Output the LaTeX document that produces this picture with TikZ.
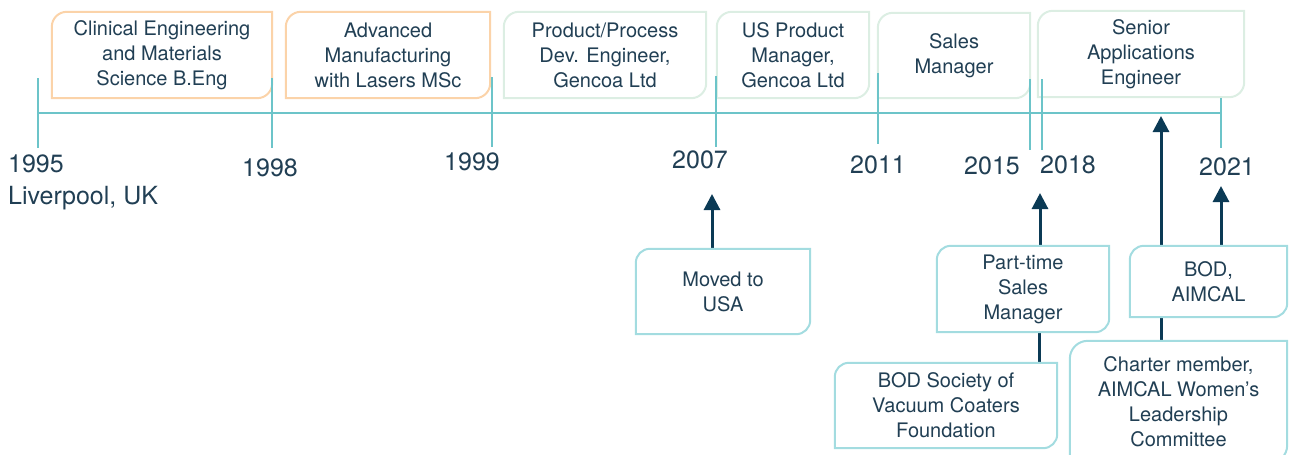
\documentclass[tikz,border=0pt]{standalone}
\usepackage{fontspec}
\setmainfont{TeX Gyre Heros}
\usetikzlibrary{arrows.meta}
\pgfdeclarelayer{back}
\pgfdeclarelayer{mid}
\pgfsetlayers{back,mid,main}
\definecolor{txt}{HTML}{213F54}
\definecolor{navy}{HTML}{0B3A55}
\definecolor{tealc}{HTML}{6CC4C9}
\definecolor{edu}{HTML}{FBD3A9}
\definecolor{job}{HTML}{DCEEE3}
\definecolor{ev}{HTML}{A3DCE0}
\tikzset{
 lbl/.style={font=\fontsize{20}{25}\selectfont, text=txt, align=center, inner sep=0pt},
 yr/.style={font=\fontsize{25}{32}\selectfont, text=txt, inner sep=0pt},
 tl/.style={draw=tealc, line width=2.5pt},
 arr/.style={draw=navy, line width=3pt, -{Triangle[width=16pt,length=16pt]}},
 lnk/.style={draw=navy, line width=3pt},
 outline/.style={line width=2pt, fill=white}
}
\newcommand\tlbr[3]{%
 \begin{pgfonlayer}{mid}
 \draw[outline, draw=#2] ([yshift=-#3]#1.north west) arc[start angle=180,end angle=90,radius=#3] -- (#1.north east) -- ([yshift=#3]#1.south east) arc[start angle=0,end angle=-90,radius=#3] -- (#1.south west) -- cycle;
 \end{pgfonlayer}}
\begin{document}
\begin{tikzpicture}[x=1pt,y=-1pt]
\useasboundingbox (0,0) rectangle (1293,455);
% top boxes
\node[lbl, minimum width=220pt, minimum height=86pt] (e1) at (162,55) {Clinical Engineering\\and Materials\\Science B.Eng};
\node[lbl, minimum width=204pt, minimum height=86pt] (e2) at (388,55) {Advanced\\Manufacturing\\with Lasers MSc};
\node[lbl, minimum width=202pt, minimum height=86pt] (j1) at (605,55) {Product/Process\\Dev. Engineer,\\Gencoa Ltd};
\node[lbl, minimum width=152pt, minimum height=86pt] (j2) at (793,55) {US Product\\Manager,\\Gencoa Ltd};
\node[lbl, minimum width=152pt, minimum height=85pt] (j3) at (954,55.5) {Sales\\Manager};
\node[lbl, minimum width=206pt, minimum height=86pt] (j4) at (1141,54) {Senior\\Applications\\Engineer};
\tlbr{e1}{edu}{15pt}
\tlbr{e2}{edu}{15pt}
\tlbr{j1}{job}{15pt}
\tlbr{j2}{job}{15pt}
\tlbr{j3}{job}{15pt}
\tlbr{j4}{job}{15pt}
% timeline
\draw[tl] (38,113) -- (1221,113);
\draw[tl] (38,78) -- (38,148);
\draw[tl] (272,78) -- (272,148);
\draw[tl] (492,77) -- (492,147);
\draw[tl] (716,76) -- (716,147);
\draw[tl] (878,73) -- (878,144);
\draw[tl] (1030,79) -- (1030,150);
\draw[tl] (1042,79) -- (1042,150);
\draw[tl] (1221,98) -- (1221,148);
% years
\node[yr, anchor=north west, align=left] (y95) at (8,155) {1995\\Liverpool, UK};
\node[yr] (y98) at (270,168) {1998};
\node[yr] (y99) at (472,162) {1999};
\node[yr] (y07) at (700,160) {2007};
\node[yr] (y11) at (878,165) {2011};
\node[yr] (y15) at (992,166) {2015};
\node[yr] (y18) at (1068,165) {2018};
\node[yr] (y21) at (1227,167) {2021};
% bottom boxes
\node[lbl, minimum width=174pt, minimum height=85pt] (moved) at (723,291.5) {Moved to\\USA};
\node[lbl, minimum width=172pt, minimum height=86pt] (part) at (1023,289) {Part-time\\Sales\\Manager};
\node[lbl, minimum width=222pt, minimum height=85pt] (svc) at (946,405.5) {BOD Society of\\Vacuum Coaters\\Foundation};
\node[lbl, minimum width=157pt, minimum height=71pt] (aim) at (1208.5,281.5) {BOD,\\AIMCAL};
\node[lbl, minimum width=217pt, minimum height=122pt] (charter) at (1178.5,402) {Charter member,\\AIMCAL Women’s\\Leadership\\Committee};
\tlbr{moved}{ev}{14pt}
\tlbr{part}{ev}{14pt}
\tlbr{svc}{ev}{14pt}
\tlbr{aim}{ev}{14pt}
\tlbr{charter}{ev}{18pt}
% connectors
\coordinate (t07) at (712,194);
\coordinate (t15) at (1040,193);
\coordinate (x39) at (1039,0);
\coordinate (t21) at (1221,186);
\coordinate (t18) at (1161,116);
\begin{pgfonlayer}{back}
\draw[arr] (moved.north -| t07) -- (t07);
\draw[arr] (part.north -| t15) -- (t15);
\draw[lnk] (svc.north -| x39) -- (part.south -| x39);
\draw[arr] (aim.north -| t21) -- (t21);
\draw[arr] (charter.north -| t18) -- (t18);
\end{pgfonlayer}
\end{tikzpicture}
\end{document}
